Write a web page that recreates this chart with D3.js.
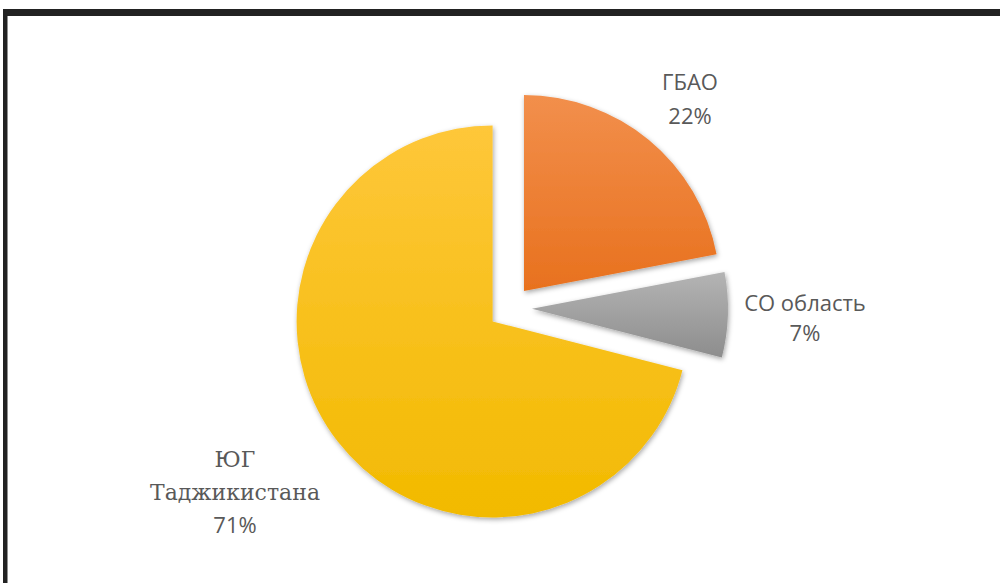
<!DOCTYPE html>
<html>
<head>
<meta charset="utf-8">
<script src="https://cdn.jsdelivr.net/npm/d3@7"></script>
<style>
  html, body { margin: 0; padding: 0; background: #fff; }
  svg { display: block; }
</style>
</head>
<body>
<svg id="chart" width="1000" height="583"></svg>
<script>
var regions = ["ГБАО", "СО область", "ЮГ Таджикистана"];
var shares = [22, 7, 71];
var labelLines = [["ГБАО", "22%"], ["СО область", "7%"], ["ЮГ", "Таджикистана", "71%"]];

var width = 1000, height = 583;
var cx = 510, cy = 308, radius = 196, explode = 22;

var svg = d3.select("#chart");
var defs = svg.append("defs");

// frame, only top and left edges show
svg.append("rect")
  .attr("x", 3).attr("y", 9)
  .attr("width", width).attr("height", 7)
  .attr("fill", "#222");
svg.append("rect")
  .attr("x", 3).attr("y", 9)
  .attr("width", 4.5).attr("height", height)
  .attr("fill", "#222");

var grads = [
  ["#f28f4c", "#e8711e"],
  ["#b4b4b4", "#8d8d8d"],
  ["#fec73a", "#f2ba00"]
];
grads.forEach(function(c, i) {
  var lg = defs.append("linearGradient")
    .attr("id", "grad" + i)
    .attr("x1", 0).attr("y1", 0).attr("x2", 0).attr("y2", 1);
  lg.append("stop").attr("offset", "0%").attr("stop-color", c[0]);
  lg.append("stop").attr("offset", "100%").attr("stop-color", c[1]);
});

var shadow = defs.append("filter").attr("id", "shadow")
  .attr("x", "-20%").attr("y", "-20%").attr("width", "140%").attr("height", "140%");
shadow.append("feDropShadow")
  .attr("dx", 1).attr("dy", 2).attr("stdDeviation", 2.5)
  .attr("flood-color", "#000").attr("flood-opacity", 0.35);

var pie = d3.pie().sort(null).value(function(d) { return d; });
var arcs = pie(shares);
var arc = d3.arc().innerRadius(0).outerRadius(radius);

var g = svg.append("g").attr("transform", "translate(" + cx + "," + cy + ")");

g.selectAll("path")
  .data(arcs)
  .enter().append("path")
    .attr("d", arc)
    .attr("fill", function(d, i) { return "url(#grad" + i + ")"; })
    .attr("filter", "url(#shadow)")
    .attr("transform", function(d) {
      var a = (d.startAngle + d.endAngle) / 2;
      return "translate(" + (Math.sin(a) * explode) + "," + (-Math.cos(a) * explode) + ")";
    });

// data labels
var labelPos = [[690, 90], [805, 311], [235, 467]];
var lineGap = [34, 30, 33];
var serifLines = { "ЮГ": true, "Таджикистана": true };

labelLines.forEach(function(lines, i) {
  var t = svg.append("text")
    .attr("text-anchor", "middle")
    .attr("fill", "#595959");
  lines.forEach(function(s, j) {
    t.append("tspan")
      .attr("x", labelPos[i][0])
      .attr("y", labelPos[i][1] + j * lineGap[i])
      .attr("font-family", serifLines[s] ? "'DejaVu Serif', serif" : "'Open Sans', 'Noto Sans', sans-serif")
      .attr("font-size", serifLines[s] ? 22 : 22)
      .text(s);
  });
});
</script>
</body>
</html>
